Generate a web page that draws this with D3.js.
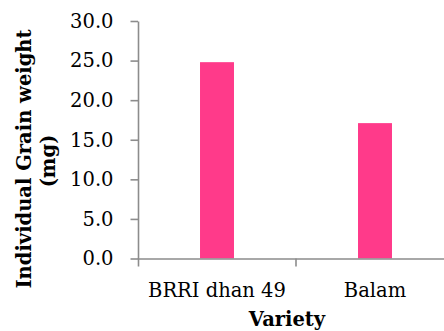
<!DOCTYPE html>
<html>
<head>
<meta charset="utf-8">
<script src="https://cdn.jsdelivr.net/npm/d3@7"></script>
<style>
  body { margin: 0; background: #fff; }
  svg { display: block; }
  text { font-family: "DejaVu Serif", serif; fill: #000; }
  .axis .domain, .axis line { stroke: #8c8c8c; stroke-width: 1.6; }
  .bold { font-weight: bold; }
</style>
</head>
<body>
<div id="chart"></div>
<script>
var categories = ['BRRI dhan 49', 'Balam'];
var grainWeight = [24.8, 17.1];
var yTicks = [0, 5, 10, 15, 20, 25, 30];

var width = 444,
  height = 331,
  plotLeft = 138,
  plotRight = 454,   // plot area runs past the right edge of the picture
  plotTop = 21,
  plotBottom = 258.5,
  fontSize = 19.5;

var svg = d3.select('#chart').append('svg')
  .attr('width', width)
  .attr('height', height);

var xScale = d3.scaleBand()
  .domain(categories)
  .range([plotLeft, plotRight])
  .paddingInner(0.785)
  .paddingOuter(0.3925);

var yScale = d3.scaleLinear()
  .domain([0, 30])
  .range([plotBottom, plotTop]);

function translation(x, y) {
  return 'translate(' + x + ',' + y + ')';
}

// Y AXIS
var yAxis = d3.axisLeft(yScale)
  .tickValues(yTicks)
  .tickSize(7.5)
  .tickSizeOuter(0)
  .tickPadding(17)
  .tickFormat(d3.format('.1f'));

svg.append('g')
  .attr('class', 'axis y')
  .attr('transform', translation(plotLeft, 0))
  .call(yAxis)
  .selectAll('text')
  .style('font-size', fontSize + 'px')
  .style('font-family', '"DejaVu Serif", serif')
  .attr('fill', '#000');

// BARS
svg.selectAll('.bar')
  .data(grainWeight)
  .enter().append('rect')
  .attr('class', 'bar')
  .attr('x', function (d, i) { return xScale(categories[i]); })
  .attr('y', function (d) { return yScale(d); })
  .attr('width', xScale.bandwidth())
  .attr('height', function (d) { return yScale(0) - yScale(d); })
  .attr('fill', '#ff3a8a');

// X AXIS
var xAxis = d3.axisBottom(xScale)
  .tickSize(0)
  .tickSizeOuter(8)
  .tickPadding(24.5);

var gx = svg.append('g')
  .attr('class', 'axis x')
  .attr('transform', translation(0, plotBottom))
  .call(xAxis);

gx.selectAll('text')
  .style('font-size', fontSize + 'px')
  .style('font-family', '"DejaVu Serif", serif')
  .attr('fill', '#000');

// boundary tick between the two categories
var step = xScale.step();
categories.slice(1).forEach(function (c) {
  var bx = xScale(c) - step * xScale.paddingInner() / 2;
  gx.append('line')
    .attr('x1', bx).attr('x2', bx)
    .attr('y1', 0).attr('y2', 8);
});

// AXIS TITLES
svg.append('text')
  .attr('class', 'bold')
  .attr('text-anchor', 'middle')
  .attr('x', 287)
  .attr('y', 326)
  .style('font-size', fontSize + 'px')
  .text('Variety');

var yTitle = ['Individual Grain weight', '(mg)'];
svg.selectAll('.ytitle')
  .data(yTitle)
  .enter().append('text')
  .attr('class', 'ytitle bold')
  .attr('text-anchor', 'middle')
  .attr('transform', function (d, i) {
    return translation(30.5 + i * 24.5, 159 + i * 2) + 'rotate(-90)';
  })
  .style('font-size', fontSize + 'px')
  .text(function (d) { return d; });
</script>
</body>
</html>
